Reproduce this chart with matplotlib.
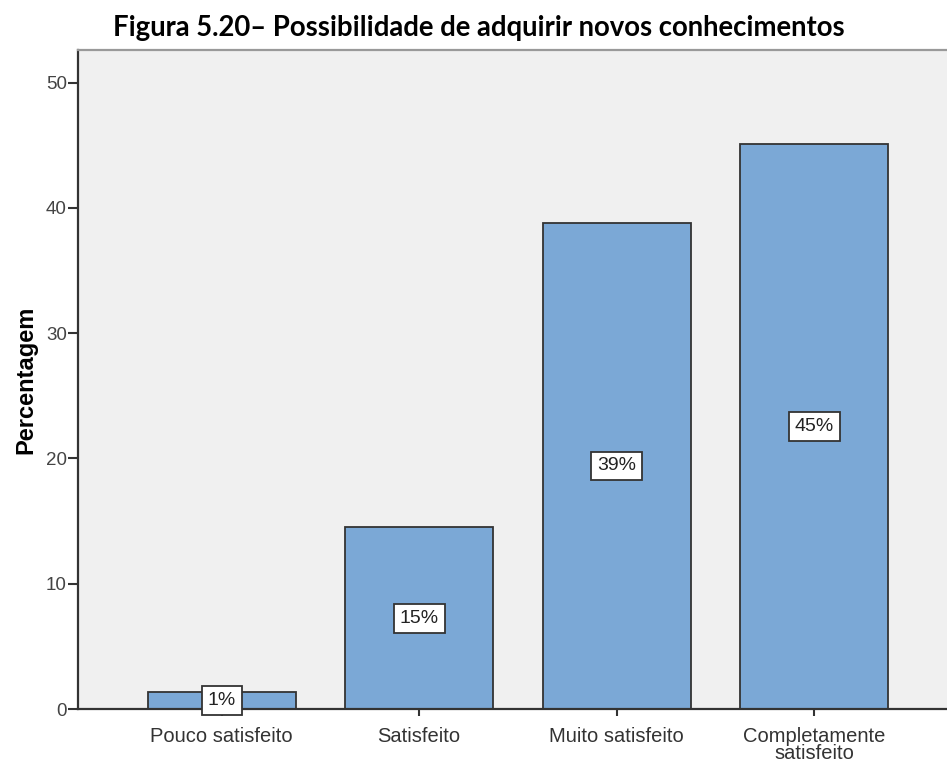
import matplotlib.pyplot as plt

categories = ['Pouco satisfeito', 'Satisfeito', 'Muito satisfeito', 'Completamente\nsatisfeito']
values = [1.36, 14.5, 38.8, 45.1]
labels = ['1%', '15%', '39%', '45%']
yticks = [0, 10, 20, 30, 40, 50]

fig = plt.figure(figsize=(9.47, 7.65), dpi=100)
ax = fig.add_axes([78 / 947, 1 - 709 / 765, 1 - 78 / 947 + 0.01, (709 - 50) / 765])
ax.set_facecolor('#f0f0f0')

x = range(len(categories))
ax.bar(x, values, width=0.75, color='#7ba8d6', edgecolor='#333333', linewidth=1.3, zorder=2)

for i, (v, t) in enumerate(zip(values, labels)):
    ax.text(i, v / 2, t, ha='center', va='center', fontsize=14, family='Liberation Sans',
            color='#222222', zorder=3,
            bbox=dict(boxstyle='square,pad=0.3', facecolor='white', edgecolor='#333333', linewidth=1.3))

ax.set_xlim(-0.727, 3.72)
ax.set_ylim(0, 52.6)
ax.set_yticks(yticks)
ax.set_xticks(list(x))
ax.set_xticklabels(categories, fontsize=14.5, family='Liberation Sans', color='#333333', linespacing=0.85)
ax.tick_params(axis='y', labelsize=13.5, labelcolor='#444444', length=7, width=1.5, color='#333333', pad=1)
ax.tick_params(axis='x', length=5, width=1.5, color='#333333', pad=8)
for lab in ax.get_yticklabels():
    lab.set_family('Liberation Sans')

for s in ['left', 'bottom']:
    ax.spines[s].set_linewidth(1.6)
    ax.spines[s].set_color('#333333')
ax.spines['top'].set_color('#999999')
ax.spines['top'].set_linewidth(1.6)
ax.spines['right'].set_visible(False)

ax.set_ylabel('Percentagem', fontsize=17, fontweight='bold', family='Liberation Sans', labelpad=6)

fig.text(479 / 947, 1 - 28 / 765, 'Figura 5.20– Possibilidade de adquirir novos conhecimentos',
         ha='center', va='center', fontsize=19.8, fontweight='bold', family='Lato')

fig.savefig('out.png', dpi=100)
